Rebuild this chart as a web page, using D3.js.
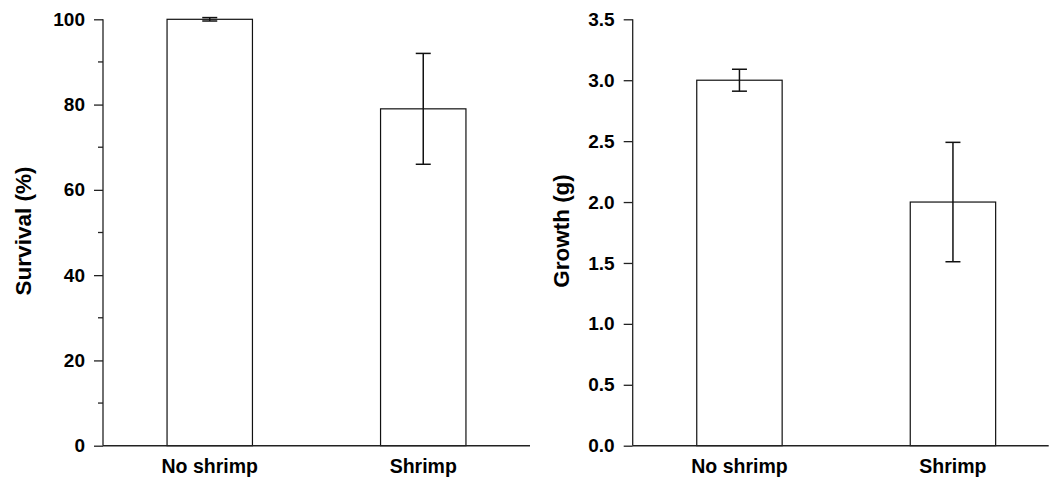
<!DOCTYPE html>
<html>
<head>
<meta charset="utf-8">
<script src="https://cdn.jsdelivr.net/npm/d3@7"></script>
<style>
  body { margin: 0; background: #fff; }
  svg { display: block; font-family: "Liberation Sans", Arial, sans-serif; }
</style>
</head>
<body>
<svg id="chart" width="1049" height="481"></svg>
<script>
// data
const groups = ["No shrimp", "Shrimp"];
const survival = [100, 79];
const survivalErr = [0.4, 13];
const growth = [3.0, 2.0];
const growthErr = [0.09, 0.49];

const survivalTicks = [0, 20, 40, 60, 80, 100];
const survivalMinor = [10, 30, 50, 70, 90];
const growthTicks = [0, 0.5, 1.0, 1.5, 2.0, 2.5, 3.0, 3.5];

const svg = d3.select("#chart");

function drawPanel(opts) {
  let top = 19.3, bottom = 445.7;
  let g = svg.append("g").attr("transform", "translate(" + opts.left + ",0)");

  let x = d3.scaleBand()
    .domain(groups)
    .range([0, 427])
    .paddingInner(0.6)
    .paddingOuter(0.3);

  let y = d3.scaleLinear()
    .domain(opts.domain)
    .range([bottom, top]);

  // bars
  g.selectAll("rect.bar")
    .data(opts.values).enter()
    .append("rect")
    .attr("class", "bar")
    .attr("x", (d, i) => x(groups[i]))
    .attr("width", x.bandwidth())
    .attr("y", d => y(d))
    .attr("height", d => bottom - y(d))
    .attr("fill", "#fff")
    .attr("stroke", "#111")
    .attr("stroke-width", 1.2);

  // error bars
  let cap = 7.5;
  let eb = g.selectAll("g.err")
    .data(opts.values).enter()
    .append("g")
    .attr("class", "err")
    .attr("stroke", "#111")
    .attr("stroke-width", 1.5);
  eb.append("line")
    .attr("x1", (d, i) => x(groups[i]) + x.bandwidth() / 2)
    .attr("x2", (d, i) => x(groups[i]) + x.bandwidth() / 2)
    .attr("y1", (d, i) => y(d - opts.errs[i]))
    .attr("y2", (d, i) => y(d + opts.errs[i]));
  for (let s of [-1, 1]) {
    eb.append("line")
      .attr("x1", (d, i) => x(groups[i]) + x.bandwidth() / 2 - cap)
      .attr("x2", (d, i) => x(groups[i]) + x.bandwidth() / 2 + cap)
      .attr("y1", (d, i) => y(d + s * opts.errs[i]))
      .attr("y2", (d, i) => y(d + s * opts.errs[i]));
  }

  // y axis
  let yAxis = g.append("g")
    .call(d3.axisLeft(y).tickValues(opts.ticks).tickFormat(opts.fmt).tickSize(9).tickPadding(9));
  yAxis.select(".domain").attr("d", "M0," + top + "V" + bottom);
  yAxis.selectAll("line").attr("stroke", "#222").attr("stroke-width", 1.3);
  yAxis.selectAll("path").attr("stroke", "#222").attr("stroke-width", 1.3);
  yAxis.selectAll("text")
    .attr("fill", "#000")
    .style("font-size", "19px")
    .style("font-weight", "bold");

  if (opts.minor) {
    g.selectAll("line.minor")
      .data(opts.minor).enter()
      .append("line")
      .attr("x1", -5).attr("x2", 0)
      .attr("y1", d => y(d)).attr("y2", d => y(d))
      .attr("stroke", "#222").attr("stroke-width", 1.3);
  }

  // x axis line
  g.append("line")
    .attr("x1", 0).attr("x2", opts.axisLen)
    .attr("y1", bottom).attr("y2", bottom)
    .attr("stroke", "#222").attr("stroke-width", 1.5);

  g.selectAll("text.xlab")
    .data(groups).enter()
    .append("text")
    .attr("class", "xlab")
    .attr("x", d => x(d) + x.bandwidth() / 2)
    .attr("y", 473)
    .attr("text-anchor", "middle")
    .style("font-size", "19.5px")
    .style("font-weight", "bold")
    .text(d => d);

  // y title
  svg.append("text")
    .attr("transform", "translate(" + opts.titleX + ",231) rotate(-90)")
    .attr("text-anchor", "middle")
    .attr("dy", "0.35em")
    .style("font-size", "22.5px")
    .style("font-weight", "bold")
    .text(opts.title);
}

drawPanel({
  left: 103, axisLen: 427, domain: [0, 100],
  values: survival, errs: survivalErr,
  ticks: survivalTicks, minor: survivalMinor, fmt: d3.format("d"),
  title: "Survival (%)", titleX: 23
});

drawPanel({
  left: 632.7, axisLen: 416, domain: [0, 3.5],
  values: growth, errs: growthErr,
  ticks: growthTicks, minor: null, fmt: d3.format(".1f"),
  title: "Growth (g)", titleX: 561
});
</script>
</body>
</html>
